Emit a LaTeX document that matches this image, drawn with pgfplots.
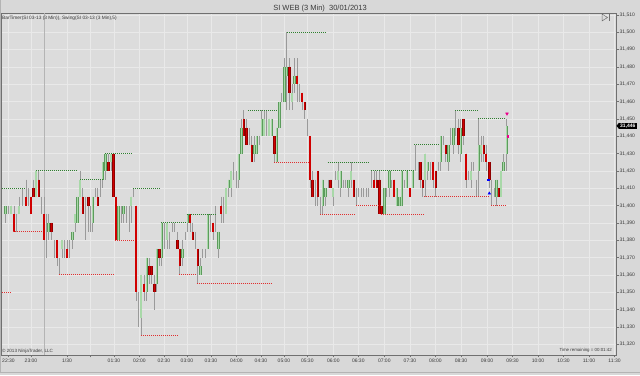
\documentclass[border=0pt]{standalone}
\usepackage{pgfplots}
\pgfplotsset{compat=1.18}
\usepackage{pgfplotstable}
\usepackage{fontspec}
\setmainfont{Liberation Sans}
\definecolor{bgc}{HTML}{D8D8D8}
\definecolor{plotbg}{HTML}{DCDCDC}
\definecolor{gridc}{HTML}{E9E9E9}
\definecolor{sessc}{HTML}{B4B4B4}
\definecolor{upfill}{HTML}{A8D8A8}
\definecolor{upedge}{HTML}{5C9C5C}
\definecolor{dnfill}{HTML}{D00000}
\definecolor{dnedge}{HTML}{900000}
\definecolor{wick}{HTML}{9A9A9A}
\definecolor{swingG}{HTML}{2F7F2F}
\definecolor{swingR}{HTML}{E03030}
\definecolor{txt}{HTML}{3A3A3A}
\definecolor{axc}{HTML}{707070}

\pgfplotstableread{
x o h l c
5.5 31395 31400 31390 31400
8 31400 31400 31395 31400
11 31395 31400 31395 31400
14 31395 31400 31385 31385
16.5 31390 31395 31385 31390
19 31395 31405 31395 31400
22 31405 31410 31400 31405
26 31405 31415 31400 31400
28.5 31405 31410 31400 31405
31 31405 31405 31395 31395
33.5 31410 31415 31405 31405
36 31405 31420 31405 31420
38.7 31415 31420 31405 31405
41.5 31400 31405 31395 31400
44 31395 31405 31380 31380
46.5 31385 31395 31370 31385
48.5 31385 31395 31380 31390
51.5 31390 31390 31380 31385
54 31375 31380 31370 31375
57 31380 31380 31365 31370
59.5 31365 31370 31360 31365
62 31375 31380 31370 31380
64.5 31375 31380 31370 31375
67 31375 31380 31370 31370
69.5 31375 31380 31370 31375
72.3 31380 31385 31375 31385
75 31390 31395 31385 31395
77.5 31390 31405 31390 31405
80 31405 31420 31405 31415
82.7 31405 31410 31395 31395
85.5 31395 31405 31380 31395
88.3 31405 31405 31385 31400
90.5 31395 31400 31385 31395
92.7 31390 31405 31385 31405
95 31410 31410 31405 31410
97.7 31405 31410 31400 31400
100 31410 31415 31405 31410
102.7 31415 31425 31410 31425
105.3 31420 31430 31415 31430
108.3 31425 31430 31420 31420
111 31425 31430 31420 31430
113.3 31430 31430 31405 31405
116 31405 31405 31380 31380
118.5 31380 31400 31380 31400
121.5 31395 31400 31390 31395
123.5 31395 31400 31390 31400
126.5 31395 31400 31390 31395
129 31395 31400 31385 31395
131 31400 31405 31390 31405
133.5 31405 31410 31405 31405
136 31400 31400 31345 31350
138.5 31340 31350 31330 31340
141 31335 31360 31325 31360
144 31355 31360 31345 31350
146.7 31350 31370 31345 31370
149.3 31365 31370 31355 31360
151.7 31365 31365 31355 31360
154.3 31355 31360 31340 31350
156.7 31355 31375 31350 31375
159.3 31375 31375 31365 31370
161.7 31370 31390 31365 31390
164.3 31385 31390 31375 31385
167 31380 31390 31375 31390
169.3 31380 31385 31375 31380
172 31385 31390 31385 31385
174.5 31385 31390 31385 31385
177.3 31380 31385 31375 31375
179.7 31375 31375 31360 31365
182.3 31370 31380 31365 31375
185 31380 31385 31380 31380
187.7 31390 31395 31385 31395
190 31395 31395 31385 31390
192.7 31385 31390 31380 31380
195 31380 31385 31375 31380
197.7 31375 31375 31355 31365
200.3 31360 31370 31360 31365
202.7 31370 31375 31370 31370
205 31370 31375 31370 31370
207.7 31375 31395 31375 31395
210 31390 31395 31385 31390
213 31390 31390 31380 31385
215.7 31390 31400 31385 31390
218.3 31375 31385 31370 31385
221 31400 31405 31390 31395
223.3 31400 31405 31390 31400
226 31395 31410 31395 31410
228.7 31410 31415 31405 31415
231 31410 31420 31405 31420
233.7 31420 31425 31415 31420
236 31415 31420 31410 31415
238.7 31415 31430 31410 31430
241.3 31430 31450 31430 31445
243.7 31450 31455 31440 31440
246.3 31445 31450 31435 31435
249 31440 31445 31435 31440
251.7 31435 31440 31425 31425
254.3 31430 31440 31425 31435
256.7 31430 31440 31430 31440
259 31440 31440 31435 31440
261.7 31440 31455 31440 31450
264 31440 31455 31440 31450
266.7 31450 31455 31440 31450
269 31440 31450 31440 31450
271.7 31440 31450 31440 31450
274.3 31440 31440 31425 31430
276.7 31425 31445 31425 31445
279.3 31445 31460 31445 31460
281.7 31460 31465 31460 31460
284.3 31460 31485 31460 31480
286.7 31475 31500 31455 31480
289.3 31480 31485 31455 31465
292 31460 31470 31455 31465
294.3 31470 31485 31465 31475
297 31475 31485 31460 31470
299.3 31465 31470 31460 31465
302 31465 31465 31455 31460
304.7 31460 31460 31450 31455
307.3 31445 31450 31440 31445
310 31440 31440 31410 31415
312.3 31415 31420 31405 31405
315 31410 31415 31400 31410
317.7 31420 31420 31400 31405
320 31400 31405 31395 31400
322.7 31400 31415 31395 31415
325.3 31405 31410 31400 31410
328 31410 31415 31410 31410
330.3 31415 31415 31410 31410
333 31405 31410 31400 31410
335.5 31415 31420 31415 31415
338 31415 31425 31410 31420
340.7 31410 31420 31405 31420
343 31410 31415 31410 31410
345.5 31410 31415 31410 31410
348.3 31410 31415 31405 31415
351 31415 31425 31410 31420
353.7 31415 31415 31405 31405
356 31405 31410 31400 31405
358.5 31410 31410 31405 31410
361 31410 31410 31405 31410
363.5 31410 31410 31405 31410
366 31410 31410 31405 31410
368.5 31410 31410 31405 31410
371.3 31415 31420 31410 31415
374 31415 31420 31410 31410
376.7 31415 31420 31410 31410
379.3 31415 31420 31395 31395
381.7 31400 31400 31395 31395
384.3 31395 31410 31395 31410
386.7 31410 31410 31405 31410
389.3 31410 31420 31405 31420
391.7 31415 31415 31410 31415
394 31415 31415 31405 31405
396.7 31400 31410 31400 31410
399.3 31400 31405 31400 31405
401.7 31400 31420 31400 31420
404 31415 31415 31410 31415
406.7 31410 31420 31410 31420
410 31410 31410 31405 31405
412.7 31410 31420 31410 31420
415.5 31425 31435 31420 31425
418 31420 31425 31415 31420
420.3 31425 31425 31410 31415
422.7 31415 31415 31405 31410
425 31415 31430 31405 31430
427.7 31420 31425 31415 31425
430.3 31420 31425 31415 31420
433 31425 31425 31410 31415
435.7 31420 31420 31405 31410
438.3 31420 31425 31420 31420
440.7 31425 31440 31420 31440
443 31440 31440 31435 31440
445.7 31435 31435 31425 31430
448.3 31425 31435 31420 31435
450.7 31440 31445 31435 31440
453.3 31435 31445 31430 31445
455.7 31445 31455 31440 31445
458.3 31445 31450 31430 31435
460.7 31430 31450 31425 31445
463.3 31450 31450 31435 31440
466 31430 31430 31410 31415
468.5 31415 31420 31415 31415
471 31415 31425 31410 31420
473.5 31420 31425 31420 31420
476 31410 31415 31405 31410
478.7 31420 31450 31405 31435
481 31430 31440 31425 31435
483.7 31435 31440 31425 31430
486 31430 31435 31420 31425
489.3 31425 31425 31410 31415
491.7 31405 31415 31400 31405
494 31410 31410 31405 31410
496.5 31405 31415 31400 31415
498.7 31410 31410 31405 31405
501 31405 31420 31405 31420
503.5 31420 31430 31420 31425
506.7 31430 31450 31420 31446
}\bars

\pgfplotsset{
  swg/.style={dash pattern=on 1pt off 1pt, line width=0.9pt, draw=swingG},
  swr/.style={dash pattern=on 1pt off 1pt, line width=0.9pt, draw=swingR},
  candle/.style={draw=none, mark=none, forget plot},
}

\begin{document}
\begin{tikzpicture}
\useasboundingbox (0,0) rectangle (640pt,375pt);
\fill[bgc] (0,0) rectangle (640pt,375pt);
\begin{axis}[
  at={(1pt,20pt)}, anchor=south west,
  scale only axis, width=615pt, height=342pt,
  xmin=1, xmax=616, ymin=31313.8, ymax=31511.1,
  axis background/.style={fill=plotbg},
  axis line style={draw=axc, line width=0.6pt},
  grid=major, major grid style={draw=gridc, line width=0.7pt},
  tick align=outside, major tick length=2.5pt,
  tick style={draw=axc, line width=0.5pt},
  xtick pos=bottom, ytick pos=right, yticklabel pos=right,
  scaled y ticks=false, scaled x ticks=false,
  ytick={31320,31330,...,31510},
  xtick={8.5,31,67,90,114,139.5,164,187,211,236.5,261,284,307.3,333.3,358.3,384.3,410,435.5,461,487,512.5,538,563.5,589,614.5},
  xticklabels={22:30,23:00,1/30,,01:30,02:00,02:30,03:00,03:30,04:00,04:30,05:00,05:30,06:00,06:30,07:00,07:30,08:00,08:30,09:00,09:30,10:00,10:30,11:00,11:30},
  /pgf/number format/fixed, /pgf/number format/precision=0,
  /pgf/number format/1000 sep={,},
  /pgf/number format/assume math mode=true,
  ticklabel style={font=\fontsize{5}{6}\selectfont, text=txt},
  yticklabel style={inner sep=1pt},
  xticklabel style={inner sep=1.5pt},
  extra x ticks={44.3}, extra x tick labels={},
  extra x tick style={major grid style={draw=sessc, line width=0.7pt}, major tick length=0pt},
]
% wicks
\addplot [candle, error bars/.cd, y dir=minus, y explicit, error mark=none,
  error bar style={line width=0.8pt, draw=wick}]
  table [x=x, y=h, y error minus expr={\thisrow{h}-\thisrow{l}}] {\bars};
% up bodies
\addplot [candle, restrict y to domain=31000:32000,
  error bars/.cd, y dir=minus, y explicit, error mark=none,
  error bar style={line width=2.4pt, draw=upedge}]
  table [x=x, y expr={(\thisrow{c}>\thisrow{o}) ? \thisrow{c} : 0}, y error minus expr={\thisrow{c}-\thisrow{o}}] {\bars};
\addplot [candle, restrict y to domain=31000:32000,
  error bars/.cd, y dir=minus, y explicit, error mark=none,
  error bar style={line width=1.3pt, draw=upfill}]
  table [x=x, y expr={(\thisrow{c}>\thisrow{o}) ? \thisrow{c} : 0}, y error minus expr={\thisrow{c}-\thisrow{o}}] {\bars};
% down bodies
\addplot [candle, restrict y to domain=31000:32000,
  error bars/.cd, y dir=minus, y explicit, error mark=none,
  error bar style={line width=2.4pt, draw=dnedge}]
  table [x=x, y expr={(\thisrow{o}>\thisrow{c}) ? \thisrow{o} : 0}, y error minus expr={\thisrow{o}-\thisrow{c}}] {\bars};
\addplot [candle, restrict y to domain=31000:32000,
  error bars/.cd, y dir=minus, y explicit, error mark=none,
  error bar style={line width=1.3pt, draw=dnfill}]
  table [x=x, y expr={(\thisrow{o}>\thisrow{c}) ? \thisrow{o} : 0}, y error minus expr={\thisrow{o}-\thisrow{c}}] {\bars};
% swing highs
\addplot[swg] coordinates {(2,31410) (25,31410)};
\addplot[swg] coordinates {(36,31420) (78,31420)};
\addplot[swg] coordinates {(80,31415) (103,31415)};
\addplot[swg] coordinates {(105,31430) (133,31430)};
\addplot[swg] coordinates {(133.3,31410) (160,31410)};
\addplot[swg] coordinates {(161,31390) (186.7,31390)};
\addplot[swg] coordinates {(186.7,31395) (215.7,31395)};
\addplot[swg] coordinates {(248,31455) (278,31455)};
\addplot[swg] coordinates {(286.7,31500) (326.7,31500)};
\addplot[swg] coordinates {(327.7,31425) (369.3,31425)};
\addplot[swg] coordinates {(370.7,31420) (413.3,31420)};
\addplot[swg] coordinates {(414.3,31435) (440,31435)};
\addplot[swg] coordinates {(455,31455) (477.3,31455)};
\addplot[swg] coordinates {(478.3,31450) (505.7,31450)};
% swing lows
\addplot[swr] coordinates {(2,31350) (12,31350)};
\addplot[swr] coordinates {(13,31385) (43,31385)};
\addplot[swr] coordinates {(59,31360) (114,31360)};
\addplot[swr] coordinates {(115,31380) (135,31380)};
\addplot[swr] coordinates {(141,31325) (177.7,31325)};
\addplot[swr] coordinates {(179,31360) (196,31360)};
\addplot[swr] coordinates {(196.7,31355) (272,31355)};
\addplot[swr] coordinates {(274,31425) (309,31425)};
\addplot[swr] coordinates {(320,31395) (355,31395)};
\addplot[swr] coordinates {(356,31400) (381,31400)};
\addplot[swr] coordinates {(381,31395) (424.3,31395)};
\addplot[swr] coordinates {(424.3,31405) (490,31405)};
\addplot[swr] coordinates {(491,31400) (505.7,31400)};
% signal markers
\addplot[only marks, mark=triangle*, mark size=1.6pt, color=blue] coordinates {(489.3,31407)};
\addplot[only marks, mark=square*, mark size=0.7pt, color=blue] coordinates {(488.3,31415)};
\addplot[only marks, mark=triangle*, mark options={rotate=180}, mark size=1.6pt, color=magenta] coordinates {(507,31453)};
\addplot[only marks, mark=square*, mark size=0.6pt, color=magenta] coordinates {(508,31440)};
\coordinate (cp) at (axis cs:616,31446);
\end{axis}
% current price marker
\node[anchor=west, fill=black, text=white, inner xsep=1pt, inner ysep=0.8pt,
  font=\fontsize{5}{6}\selectfont\bfseries] (cpl) at ([xshift=3pt]cp) {31,446};
\fill[black] (cpl.north west) -- ([xshift=-2.5pt]cpl.west) -- (cpl.south west) -- cycle;
% annotations
\node[font=\fontsize{7.5}{9}\selectfont, text=txt] at (320pt,366.5pt) {SI WEB (3 Min)\ \ 30/01/2013};
\node[anchor=west, font=\fontsize{4.8}{5.5}\selectfont, text=txt, inner sep=0pt] at (2pt,357pt) {BarTimer(SI 03-13 (3 Min)), Swing(SI 03-13 (3 Min),5)};
\node[anchor=west, font=\fontsize{4.6}{5.5}\selectfont, text=txt, inner sep=0pt] at (2pt,24pt) {\textcopyright{} 2013 NinjaTrader, LLC};
\node[anchor=east, font=\fontsize{4.4}{5}\selectfont, text=txt, inner sep=0pt] at (612pt,25pt) {Time remaining = 00:01:42};
\draw[axc, line width=0.5pt] (602pt,361pt) -- (607.5pt,357.5pt) -- (602pt,354pt) -- cycle;
\draw[axc, line width=0.6pt] (609pt,361pt) -- (609pt,354pt);
\draw[sessc, line width=0.8pt] (0,3pt) -- (640pt,3pt);
\draw[sessc, line width=0.8pt] (0.4pt,3pt) -- (0.4pt,375pt);
\end{tikzpicture}
\end{document}
